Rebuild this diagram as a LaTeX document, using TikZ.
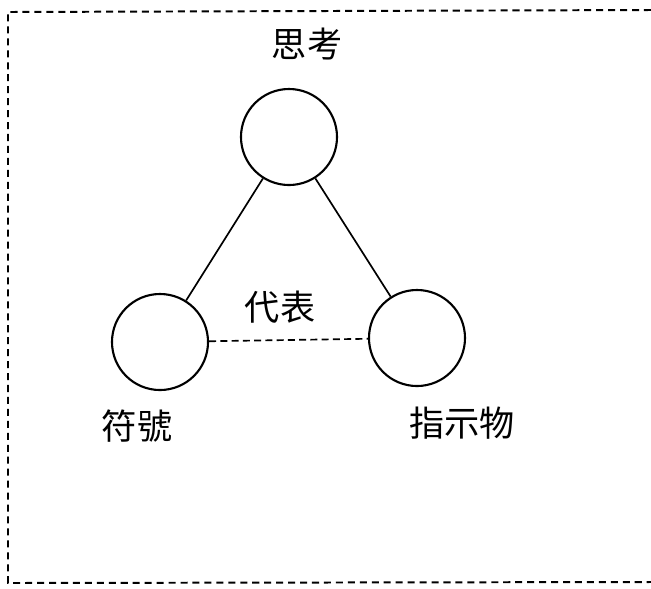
\documentclass[tikz,border=0pt]{standalone}
\usepackage{fontspec}
\newfontfamily\cjk{Noto Sans CJK TC}
\tikzset{
  vertex/.style={circle,draw,line width=1.5pt,minimum size=2.4cm,inner sep=0pt},
  edgeline/.style={line width=1.2pt},
  framedash/.style={line width=1.4pt,dash pattern=on 5pt off 3.5pt},
  linkdash/.style={line width=1.2pt,dash pattern=on 5pt off 3pt},
  cjklabel/.style={font=\cjk\fontsize{25}{30}\selectfont,inner sep=0pt}
}
\begin{document}
\begin{tikzpicture}[x=0.025cm,y=-0.025cm]
            \useasboundingbox (0,0) rectangle (651,588);%

            % Drawing frame
            \draw [framedash] (651,10) -- (8,12) -- (8,583) -- (651,582);%

            % Drawing circles
            \node [vertex] (thought) at (289,137) {};%
            \node [vertex] (symbol) at (160,342) {};%
            \node [vertex] (referent) at (417,338) {};%

            % Drawing links
            \draw [edgeline] (thought) -- (symbol);%
            \draw [edgeline] (thought) -- (referent);%
            \draw [linkdash] (symbol) -- (referent);%

            % Marking labels
            \node [cjklabel] (thoughtlabel) at (307,44) {思考};%
            \node [cjklabel] (standsfor) at (280,307) {代表};%
            \node [cjklabel] (symbollabel) at (137,426) {符號};%
            \node [cjklabel] (referentlabel) at (462,423) {指示物};%

\end{tikzpicture}
\end{document}
